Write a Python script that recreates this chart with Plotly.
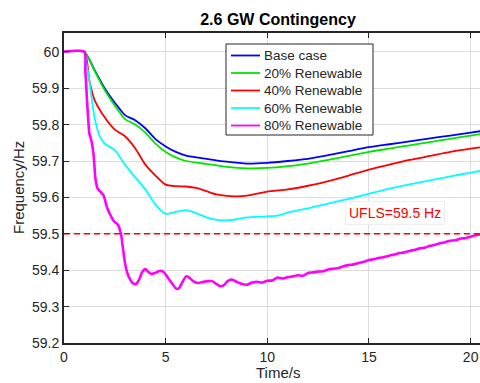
import plotly.graph_objects as go

# ---------------- data ----------------
t_base = [0, 1.0, 1.5, 2.0, 2.5, 3.0, 3.5, 4.0, 4.5, 5.0, 5.5, 6.0, 7.0, 8.0, 9.0, 10.0,
          11.0, 12.0, 13.0, 14.0, 15.0, 16.0, 17.0, 18.0, 19.0, 20.0, 20.5]
f_base = [60.0, 60.0, 59.95, 59.90, 59.86, 59.826, 59.812, 59.79, 59.76, 59.74, 59.725,
          59.715, 59.706, 59.698, 59.693, 59.695, 59.700, 59.706, 59.716, 59.727, 59.738,
          59.746, 59.754, 59.762, 59.770, 59.778, 59.782]

t_r20 = t_base
f_r20 = [60.0, 60.0, 59.948, 59.895, 59.852, 59.815, 59.800, 59.778, 59.748, 59.725, 59.710,
         59.700, 59.692, 59.684, 59.680, 59.681, 59.686, 59.693, 59.703, 59.714, 59.725,
         59.734, 59.743, 59.752, 59.761, 59.770, 59.774]

t_r40 = [0, 1.0, 1.25, 1.5, 2.0, 2.5, 3.0, 3.5, 4.0, 4.5, 5.0, 5.5, 6.0, 6.5, 7.0, 7.5,
         8.0, 8.5, 9.0, 10.0, 11.0, 12.0, 13.0, 14.0, 15.0, 16.0, 17.0, 18.0, 19.0, 20.0, 20.5]
f_r40 = [60.0, 60.0, 59.92, 59.868, 59.82, 59.786, 59.768, 59.735, 59.69, 59.66, 59.635,
         59.631, 59.630, 59.626, 59.617, 59.608, 59.604, 59.603, 59.605, 59.616, 59.622,
         59.632, 59.645, 59.660, 59.676, 59.690, 59.703, 59.714, 59.725, 59.734, 59.738]

t_r60 = [0, 1.0, 1.1, 1.25, 1.5, 1.75, 2.0, 2.5, 3.0, 3.5, 4.0, 4.5, 5.0, 5.5, 6.0, 6.5,
         7.0, 7.5, 8.0, 8.5, 9.0, 10.0, 10.5, 11.0, 12.0, 13.0, 14.0, 15.0, 16.0, 17.0,
         18.0, 19.0, 20.0, 20.5]
f_r60 = [60.0, 60.0, 59.97, 59.92, 59.82, 59.77, 59.748, 59.73, 59.69, 59.655, 59.622,
         59.58, 59.555, 59.56, 59.565, 59.557, 59.545, 59.538, 59.537, 59.54, 59.545,
         59.548, 59.55, 59.558, 59.57, 59.583, 59.596, 59.61, 59.624, 59.636, 59.647,
         59.658, 59.668, 59.673]

t_r80 = [0, 1.0, 1.05, 1.15, 1.25, 1.35, 1.45, 1.55, 1.65, 1.8, 1.95, 2.1, 2.25, 2.45,
         2.65, 2.8, 2.9, 3.0, 3.1, 3.25, 3.4, 3.55, 3.7, 3.85, 4.0, 4.15, 4.3, 4.5, 4.7,
         4.9, 5.1, 5.3, 5.5, 5.65, 5.8, 6.0, 6.15, 6.35, 6.6, 6.85, 7.1, 7.3, 7.5, 7.7,
         7.85, 8.05, 8.25, 8.5, 8.75, 9.0, 9.25, 9.5, 9.75, 10.0, 10.25, 10.5, 10.75,
         11.0, 11.25, 11.5, 11.75, 12.0, 12.25, 12.5, 12.75, 13.0, 13.25, 13.5, 13.75,
         14.0, 14.25, 14.5, 14.75, 15.0, 15.25, 15.5, 15.75, 16.0, 16.25, 16.5, 16.75,
         17.0, 17.25, 17.5, 17.75, 18.0, 18.25, 18.5, 18.75, 19.0, 19.25, 19.5, 19.75,
         20.0, 20.25, 20.5]
f_r80 = [60.0, 60.0, 59.95, 59.85, 59.775, 59.755, 59.72, 59.65, 59.625, 59.615, 59.605,
         59.575, 59.555, 59.535, 59.525, 59.50, 59.46, 59.42, 59.395, 59.375, 59.364,
         59.362, 59.375, 59.395, 59.403, 59.395, 59.39, 59.393, 59.398, 59.395, 59.38,
         59.365, 59.35, 59.35, 59.365, 59.383, 59.38, 59.37, 59.365, 59.368, 59.37,
         59.37, 59.362, 59.356, 59.358, 59.37, 59.374, 59.368, 59.362, 59.36, 59.366,
         59.368, 59.366, 59.371, 59.372, 59.38, 59.377, 59.381, 59.383, 59.386, 59.385,
         59.392, 59.394, 59.396, 59.397, 59.402, 59.404, 59.406, 59.411, 59.414, 59.416,
         59.42, 59.423, 59.428, 59.43, 59.434, 59.436, 59.44, 59.443, 59.447, 59.449,
         59.453, 59.456, 59.46, 59.462, 59.467, 59.47, 59.474, 59.477, 59.481, 59.482,
         59.487, 59.488, 59.492, 59.496, 59.499]

series_names = ["Base case", "20% Renewable", "40% Renewable", "60% Renewable", "80% Renewable"]
series_colors = ["#0000FF", "#00E600", "#FF0000", "#00FFFF", "#FF00FF"]

ufls_level = 59.5
ufls_label = "UFLS=59.5 Hz"
x_ticks = [0, 5, 10, 15, 20]
y_ticks = [59.2, 59.3, 59.4, 59.5, 59.6, 59.7, 59.8, 59.9, 60.0]
y_ticklabels = ["59.2", "59.3", "59.4", "59.5", "59.6", "59.7", "59.8", "59.9", "60"]

# ---------------- layout geometry (pixels) ----------------
W, H = 480, 383
ML, MR, MT, MB = 64, 0, 33, 40
PW, PH = W - ML - MR, H - MT - MB
X_MAX = 20.46
Y_MIN, Y_MAX = 59.2, 59.2 + 310 / 364


def px_x(px):
    return (px - ML) / PW


def px_y(py):
    return (H - MB - py) / PH


FONT = "Liberation Sans, Arial, Helvetica, sans-serif"
TXT = "#262626"
fig = go.Figure()

all_t = [t_base, t_r20, t_r40, t_r60, t_r80]
all_f = [f_base, f_r20, f_r40, f_r60, f_r80]
widths = [1.8, 1.8, 1.8, 1.8, 2.6]
for t, f, name, col, w in zip(all_t, all_f, series_names, series_colors, widths):
    fig.add_trace(go.Scatter(x=t, y=f, mode="lines", name=name, showlegend=False,
                             line=dict(color=col, width=w, shape="spline", smoothing=0.6)))

# UFLS dashed line
fig.add_trace(go.Scatter(x=[0, X_MAX], y=[ufls_level, ufls_level], mode="lines",
                         showlegend=False, hoverinfo="skip",
                         line=dict(color="#FF0000", width=1.5, dash="6px,4px")))

fig.add_annotation(x=16.26, y=59.557, text=ufls_label, showarrow=False,
                   font=dict(family=FONT, size=14, color="#FF0000"),
                   bgcolor="white", bordercolor="#eeeeee", borderwidth=1, borderpad=3)

# ---------------- legend box (MATLAB style) ----------------
LEG_L, LEG_R, LEG_T, LEG_B = 226, 373, 44, 135
fig.add_shape(type="rect", xref="paper", yref="paper",
              x0=px_x(LEG_L), x1=px_x(LEG_R), y0=px_y(LEG_B), y1=px_y(LEG_T),
              line=dict(color=TXT, width=1), fillcolor="white", layer="above")
for i, (name, col, w) in enumerate(zip(series_names, series_colors, widths)):
    yy = 55.5 + 17.5 * i
    fig.add_shape(type="line", xref="paper", yref="paper",
                  x0=px_x(231), x1=px_x(260), y0=px_y(yy), y1=px_y(yy),
                  line=dict(color=col, width=1.8), layer="above")
    fig.add_annotation(xref="paper", yref="paper", x=px_x(262), y=px_y(yy),
                       xanchor="left", yanchor="middle", text=name, showarrow=False,
                       font=dict(family=FONT, size=13.5, color=TXT))

# axis titles
fig.add_annotation(xref="paper", yref="paper", x=px_x(278), y=px_y(372),
                   xanchor="center", yanchor="middle", text="Time/s", showarrow=False,
                   font=dict(family=FONT, size=15, color=TXT))
fig.add_annotation(xref="paper", yref="paper", x=px_x(18), y=px_y(188),
                   xanchor="center", yanchor="middle", text="Frequency/Hz", textangle=-90,
                   showarrow=False, font=dict(family=FONT, size=15, color=TXT))

fig.update_layout(
    width=W, height=H,
    margin=dict(l=ML, r=MR, t=MT, b=MB, autoexpand=False),
    paper_bgcolor="white", plot_bgcolor="white",
    font=dict(family=FONT, size=14, color=TXT),
    title=dict(text="<b>2.6 GW Contingency</b>", x=278 / W, xanchor="center",
               y=1 - 19 / H, yanchor="middle",
               font=dict(family=FONT, size=16, color="black")),
    showlegend=False,
)

fig.update_xaxes(range=[0, X_MAX], tickvals=x_ticks, ticktext=[str(v) for v in x_ticks],
                 showgrid=True, gridcolor="#dddddd", gridwidth=1, zeroline=False,
                 showline=True, linecolor=TXT, linewidth=2, mirror="ticks",
                 ticks="inside", ticklen=5, tickcolor=TXT, tickwidth=1.2,
                 automargin=False, tickfont=dict(size=14, color=TXT))
fig.update_yaxes(range=[Y_MIN, Y_MAX], tickvals=y_ticks, ticktext=y_ticklabels,
                 showgrid=True, gridcolor="#dddddd", gridwidth=1, zeroline=False,
                 showline=True, linecolor=TXT, linewidth=2, mirror=False,
                 ticks="inside", ticklen=5, tickcolor=TXT, tickwidth=1.2,
                 automargin=False, tickfont=dict(size=14, color=TXT))

fig.write_html("out.html", config={"displayModeBar": False},
               post_script="document.body.style.margin='0';")
